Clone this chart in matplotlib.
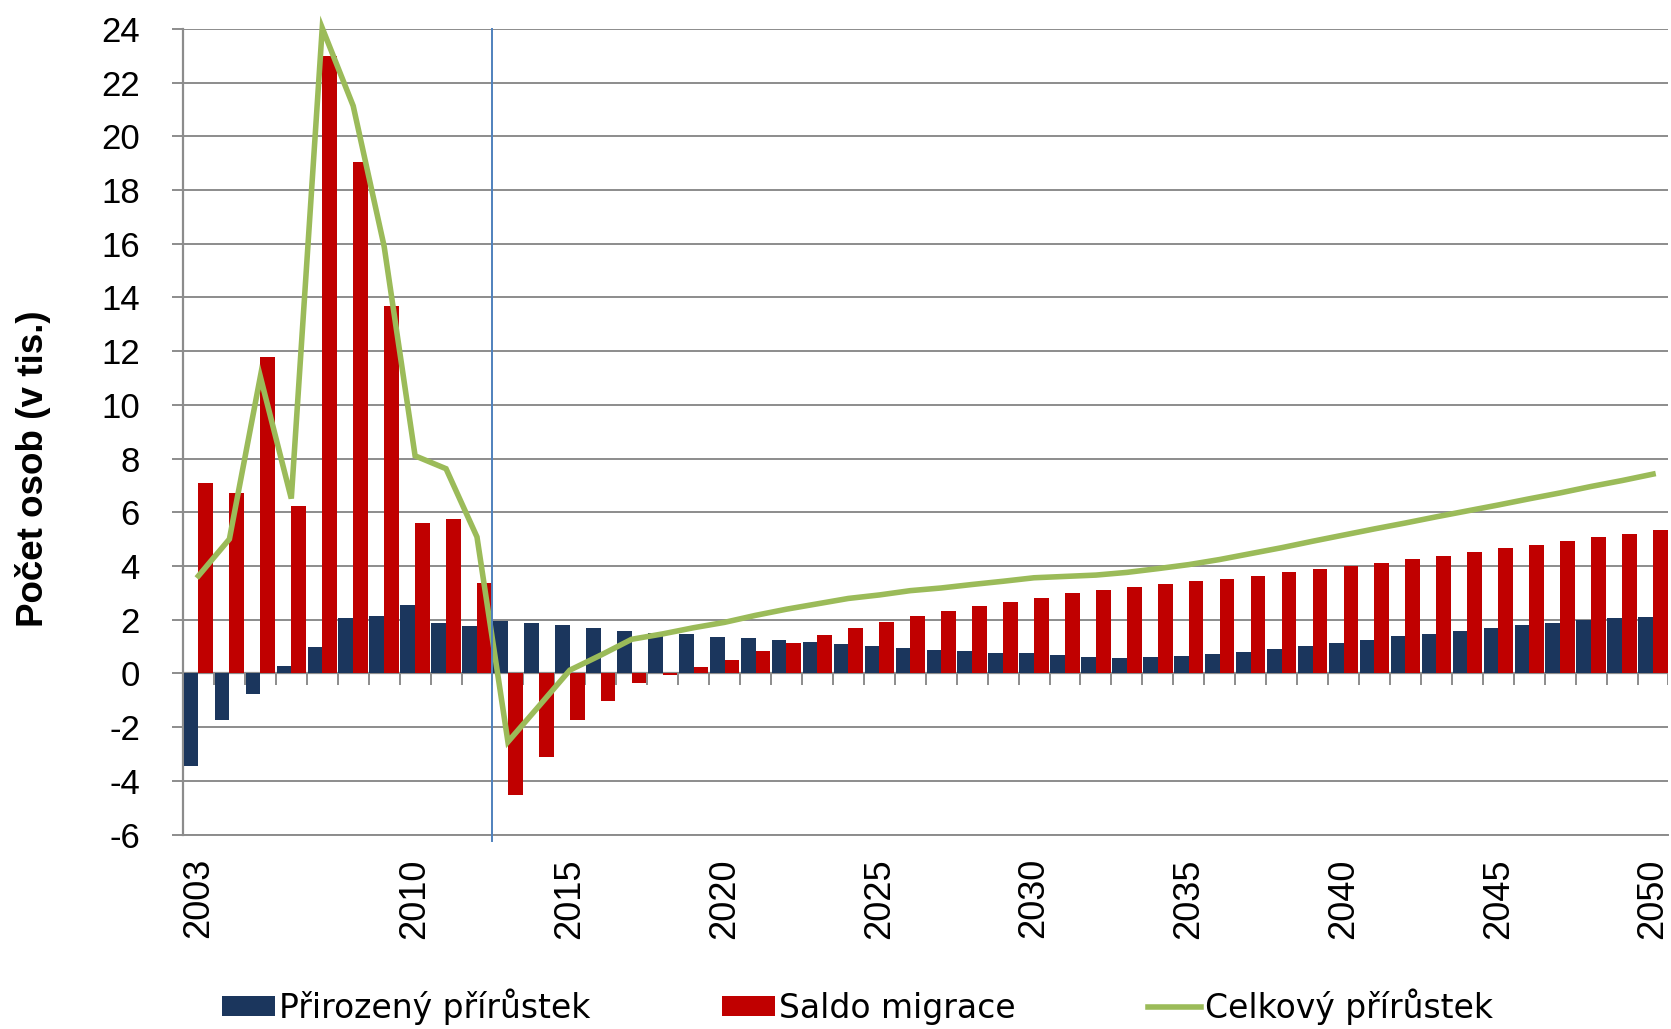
import numpy as np
import matplotlib
matplotlib.use("Agg")
import matplotlib.pyplot as plt

plt.rcParams['font.family'] = ['Liberation Sans', 'DejaVu Sans']
plt.rcParams['axes.unicode_minus'] = False

roky = list(range(2003, 2051))
popisky_let = [2003, 2010, 2015, 2020, 2025, 2030, 2035, 2040, 2045, 2050]

prirozeny = [-3.45, -1.72, -0.75, 0.26, 1.0, 2.08, 2.14, 2.54, 1.89, 1.78,
             1.94, 1.86, 1.79, 1.69, 1.59, 1.51, 1.46, 1.37, 1.32, 1.25,
             1.17, 1.1, 1.01, 0.95, 0.87, 0.82, 0.77, 0.76, 0.67, 0.61,
             0.58, 0.6, 0.63, 0.71, 0.8, 0.91, 1.02, 1.14, 1.25, 1.38,
             1.48, 1.59, 1.68, 1.79, 1.88, 1.98, 2.05, 2.11]

migrace = [7.08, 6.71, 11.77, 6.25, 22.98, 19.05, 13.67, 5.6, 5.75, 3.37,
           -4.54, -3.1, -1.72, -1.04, -0.35, -0.07, 0.25, 0.51, 0.84, 1.14,
           1.42, 1.69, 1.9, 2.14, 2.32, 2.5, 2.67, 2.82, 2.98, 3.09,
           3.2, 3.32, 3.43, 3.53, 3.64, 3.76, 3.88, 4.0, 4.11, 4.25,
           4.37, 4.52, 4.66, 4.78, 4.92, 5.06, 5.2, 5.33]

celkovy = [3.63, 5.0, 11.05, 6.51, 24.03, 21.13, 15.9, 8.1, 7.62, 5.08,
           -2.55, -1.22, 0.12, 0.68, 1.27, 1.47, 1.7, 1.9, 2.16, 2.39,
           2.59, 2.79, 2.92, 3.08, 3.18, 3.31, 3.43, 3.56, 3.61, 3.66,
           3.76, 3.9, 4.05, 4.24, 4.46, 4.68, 4.92, 5.15, 5.38, 5.6,
           5.83, 6.05, 6.27, 6.5, 6.72, 6.96, 7.18, 7.42]

modra = '#1B365D'
cervena = '#C00000'
zelena = '#9BBB59'
seda = '#8C8C8C'

fig = plt.figure(figsize=(16.71, 10.29), dpi=100)
ax = fig.add_axes([0.1095, 0.189, 0.889, 0.783])

x = np.arange(len(roky))
sirka = 0.475
b1 = ax.bar(x - sirka / 2, prirozeny, width=sirka, color=modra, zorder=3,
            label='Přirozený přírůstek')
b2 = ax.bar(x + sirka / 2, migrace, width=sirka, color=cervena, zorder=3,
            label='Saldo migrace')
l1, = ax.plot(x, celkovy, color=zelena, lw=4, zorder=4, clip_on=False,
              solid_joinstyle='miter', label='Celkový přírůstek')

# svisla cara mezi skutecnosti a projekci (2012/2013)
ax.axvline(roky.index(2012) + 0.5, color='#4F81BD', lw=1.4, zorder=5,
           ymin=-0.008, clip_on=False)

ax.set_xlim(-0.5, len(roky) - 0.5)
ax.set_ylim(-6, 24)
ax.set_yticks(np.arange(-6, 25, 2))
ax.yaxis.grid(True, color=seda, lw=1.4, zorder=0)
ax.axhline(0, color=seda, lw=1.6, zorder=2)

# znacky kategorii na nulove ose
hranice = np.arange(-0.5, len(roky), 1.0)
ax.vlines(hranice, 0, -0.42, color=seda, lw=1.4, zorder=2)

ax.set_xticks([roky.index(r) for r in popisky_let])
ax.set_xticklabels([str(r) for r in popisky_let], rotation=90, fontsize=26,
                   va='top')
ax.tick_params(axis='x', length=0, pad=17)
ax.tick_params(axis='y', length=8, width=1.4, color=seda, labelsize=25,
               pad=23)

for s in ['top', 'right']:
    ax.spines[s].set_visible(False)
ax.spines['left'].set_color(seda)
ax.spines['left'].set_linewidth(1.6)
ax.spines['bottom'].set_color(seda)
ax.spines['bottom'].set_linewidth(1.4)

fig.text(0.02, 0.545, 'Počet osob (v tis.)', rotation=90, fontsize=26.5,
         fontweight='bold', ha='center', va='center')

fig.legend(handles=[b1, b2, l1], loc='center', bbox_to_anchor=(0.513, 0.022),
           ncol=3, frameon=False, handlelength=1.6, handleheight=0.6,
           handletextpad=0.12, columnspacing=4.0,
           prop={'family': 'DejaVu Sans', 'size': 23.8})

fig.savefig('out.png', dpi=100)
